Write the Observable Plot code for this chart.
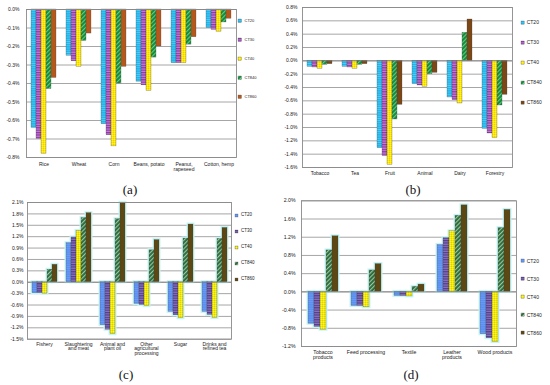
<!DOCTYPE html>
<html><head><meta charset="utf-8">
<script src="https://cdn.jsdelivr.net/npm/d3@7"></script>
<script src="https://cdn.jsdelivr.net/npm/@observablehq/plot@0.6"></script>
<style>
html,body{margin:0;padding:0;background:#fff;}
#root{position:relative;width:550px;height:385px;overflow:hidden;font-family:"Liberation Sans",Arial,sans-serif;}
.panel{position:absolute;}
.lg{position:absolute;color:#222;white-space:nowrap;line-height:1;font-family:"Liberation Sans",Arial,sans-serif;}
.tag{position:absolute;font-family:"Liberation Serif","Times New Roman",serif;font-size:13px;color:#111;transform:translate(-50%,-50%);line-height:1;}
</style></head>
<body>
<svg width="0" height="0" style="position:absolute">
<defs>
 <pattern id="a20" width="4" height="2.2" patternUnits="userSpaceOnUse"><rect width="4" height="2.2" fill="#1db4ea"/><rect y="1.4" width="4" height="0.6" fill="#6fd3f5"/></pattern>
 <pattern id="a30" width="4" height="2.4" patternUnits="userSpaceOnUse"><rect width="4" height="2.4" fill="#8a37a6"/><rect y="1.3" width="4" height="0.9" fill="#d896e2"/></pattern>
 <pattern id="a40" width="2" height="2" patternUnits="userSpaceOnUse"><rect width="2" height="2" fill="#ffe800"/><rect x="0" y="0" width="0.7" height="0.7" fill="#d9c200"/><rect x="1" y="1" width="0.7" height="0.7" fill="#fff59a"/></pattern>
 <pattern id="a840" width="3" height="3" patternUnits="userSpaceOnUse" patternTransform="rotate(45)"><rect width="3" height="3" fill="#17873c"/><rect width="1.1" height="3" fill="#66cc80"/></pattern>
 <pattern id="a860" width="4" height="4" patternUnits="userSpaceOnUse"><rect width="4" height="4" fill="#b4581c"/></pattern>
 <pattern id="b860" width="4" height="4" patternUnits="userSpaceOnUse"><rect width="4" height="4" fill="#7b4717"/></pattern>
 <pattern id="c20" width="4" height="2.2" patternUnits="userSpaceOnUse"><rect width="4" height="2.2" fill="#5a8ff0"/><rect y="1.4" width="4" height="0.5" fill="#7aa6f4"/></pattern>
 <pattern id="c30" width="4" height="2.4" patternUnits="userSpaceOnUse"><rect width="4" height="2.4" fill="#563c8c"/><rect y="1.3" width="4" height="0.9" fill="#9b86cc"/></pattern>
 <pattern id="c40" width="2" height="2" patternUnits="userSpaceOnUse"><rect width="2" height="2" fill="#f4ea00"/><rect x="0" y="0" width="0.7" height="0.7" fill="#c9bf00"/><rect x="1" y="1" width="0.7" height="0.7" fill="#fffaa0"/></pattern>
 <pattern id="c840" width="3" height="3" patternUnits="userSpaceOnUse" patternTransform="rotate(45)"><rect width="3" height="3" fill="#2c6b39"/><rect width="1.1" height="3" fill="#9cc6a4"/></pattern>
 <pattern id="c860" width="4" height="4" patternUnits="userSpaceOnUse"><rect width="4" height="4" fill="#5c4814"/></pattern>
</defs>
</svg>
<div id="root"></div>
<script>
const series = ["CT20", "CT30", "CT40", "CT840", "CT860"];

// Panel (a)
const catsA = ["Rice", "Wheat", "Corn", "Beans, potato", "Peanut,\nrapeseed", "Cotton, hemp"];
const valuesA = [
  [-0.64, -0.25, -0.62, -0.39, -0.29, -0.10],
  [-0.70, -0.28, -0.68, -0.41, -0.29, -0.11],
  [-0.78, -0.31, -0.74, -0.44, -0.29, -0.12],
  [-0.43, -0.17, -0.40, -0.26, -0.19, -0.07],
  [-0.37, -0.13, -0.31, -0.20, -0.15, -0.05]
];
const ticksA = [0, -0.1, -0.2, -0.3, -0.4, -0.5, -0.6, -0.7, -0.8];

// Panel (b)
const catsB = ["Tobacco", "Tea", "Fruit", "Animal", "Dairy", "Forestry"];
const valuesB = [
  [-0.09, -0.09, -1.31, -0.35, -0.55, -1.02],
  [-0.10, -0.10, -1.43, -0.37, -0.59, -1.09],
  [-0.12, -0.12, -1.56, -0.39, -0.64, -1.16],
  [-0.06, -0.06, -0.88, -0.20, 0.42, -0.67],
  [-0.05, -0.05, -0.66, -0.18, 0.62, -0.51]
];
const ticksB = [0.8, 0.6, 0.4, 0.2, 0, -0.2, -0.4, -0.6, -0.8, -1.0, -1.2, -1.4, -1.6];

// Panel (c)
const catsC = ["Fishery", "Slaughtering\nand meat", "Animal and\nplant oil", "Other\nagricultural\nprocessing", "Sugar", "Drinks and\nrefined tea"];
const valuesC = [
  [-0.29, 1.03, -1.13, -0.57, -0.78, -0.78],
  [-0.29, 1.18, -1.25, -0.60, -0.87, -0.86],
  [-0.30, 1.35, -1.37, -0.63, -0.95, -0.94],
  [0.33, 1.69, 1.66, 0.84, 1.15, 1.14],
  [0.46, 1.82, 2.09, 1.11, 1.52, 1.43]
];
const ticksC = [2.1, 1.8, 1.5, 1.2, 0.9, 0.6, 0.3, 0, -0.3, -0.6, -0.9, -1.2, -1.5];

// Panel (d)
const catsD = ["Tobacco\nproducts", "Feed processing", "Textile", "Leather\nproducts", "Wood products"];
const valuesD = [
  [-0.70, -0.31, -0.09, 1.03, -0.93],
  [-0.77, -0.31, -0.09, 1.18, -1.02],
  [-0.83, -0.34, -0.10, 1.33, -1.10],
  [0.91, 0.47, 0.11, 1.67, 1.40],
  [1.22, 0.61, 0.16, 1.90, 1.80]
];
const ticksD = [2.0, 1.6, 1.2, 0.8, 0.4, 0, -0.4, -0.8, -1.2];

const fillsA = ["url(#a20)", "url(#a30)", "url(#a40)", "url(#a840)", "url(#a860)"];
const fillsB = ["url(#a20)", "url(#a30)", "url(#a40)", "url(#a840)", "url(#b860)"];
const fillsCD = ["url(#c20)", "url(#c30)", "url(#c40)", "url(#c840)", "url(#c860)"];

const root = document.getElementById("root");
const fmt = d => d.toFixed(1) + "%";

function panel(cfg) {
  const data = cfg.cats.flatMap((c, i) => series.map((s, j) => ({cat: c, series: s, value: cfg.values[j][i]})));
  const marks = [
    Plot.gridY(cfg.ticks, {stroke: "#8f8f8f", strokeOpacity: 1, strokeWidth: 0.8}),
  ];
  if (cfg.glow) {
    marks.push(Plot.barY(data, {fx: "cat", x: "series", y: "value", fill: "none", stroke: "#c6f5f5", strokeWidth: 3}));
  }
  marks.push(
    Plot.barY(data, {fx: "cat", x: "series", y: "value", fill: "series", stroke: "#3a3a3a", strokeWidth: 0.35, strokeOpacity: 0.7}),
    Plot.ruleY([0], {stroke: "#7a7a7a", strokeWidth: 0.8}),
    Plot.axisY(cfg.ticks, {tickSize: 0, tickPadding: cfg.yPad, tickFormat: fmt, label: null, fontSize: cfg.fs}),
    Plot.axisFx({anchor: "bottom", tickSize: 0, tickPadding: cfg.xPad, label: null, fontSize: cfg.fs, lineHeight: cfg.lh}),
    Plot.frame({facet: "super", stroke: "#8a8a8a", strokeWidth: 0.9})
  );
  const p = Plot.plot({
    width: cfg.w, height: cfg.h,
    marginLeft: cfg.ml, marginRight: cfg.mr, marginTop: cfg.mt, marginBottom: cfg.mb,
    fx: {domain: cfg.cats, padding: 0, axis: null},
    x: {domain: series, paddingInner: 0, paddingOuter: 0.72, axis: null},
    y: {domain: cfg.domain, axis: null},
    color: {domain: series, range: cfg.fills},
    style: {fontSize: cfg.fs + "px", fontFamily: "Liberation Sans, Arial, sans-serif", color: "#1a1a1a", background: "transparent", overflow: "visible"},
    marks
  });
  p.classList.add("panel");
  p.style.left = cfg.left + "px";
  p.style.top = cfg.top + "px";
  root.appendChild(p);

  // legend
  series.forEach((s, j) => {
    const d = document.createElement("div");
    d.className = "lg";
    d.style.left = cfg.lgX + "px";
    d.style.top = (cfg.lgY[j] - cfg.lgFs / 2) + "px";
    d.style.fontSize = cfg.lgFs + "px";
    d.innerHTML = `<svg width="${cfg.sw + 2}" height="${cfg.sw}" style="vertical-align:middle;margin-right:1px;overflow:visible"><rect width="${cfg.sw}" height="${cfg.sw}" fill="${cfg.fills[j]}" stroke="#555" stroke-width="0.3"/></svg>${s}`;
    d.style.display = "flex";
    d.style.alignItems = "center";
    d.style.height = cfg.lgFs + "px";
    root.appendChild(d);
  });
  const t = document.createElement("div");
  t.className = "tag";
  t.style.left = cfg.tagX + "px";
  t.style.top = cfg.tagY + "px";
  t.textContent = cfg.tag;
  root.appendChild(t);
}

panel({cats: catsA, values: valuesA, ticks: ticksA, domain: [-0.8, 0], fills: fillsA,
  left: 0, top: 0, w: 238, h: 178, ml: 25, mr: 1, mt: 9, mb: 21, yPad: 7, xPad: 4, fs: 5, lh: 1.15,
  lgX: 238, lgY: [21, 40, 59, 78, 97], lgFs: 4, sw: 3.5, tag: "(a)", tagX: 130, tagY: 189});

panel({cats: catsB, values: valuesB, ticks: ticksB, domain: [-1.6, 0.8], fills: fillsB,
  left: 275, top: 0, w: 238, h: 180, ml: 27, mr: 1, mt: 7, mb: 13, yPad: 5, xPad: 4, fs: 5, lh: 1.1,
  lgX: 520.5, lgY: [22.7, 42.7, 62.7, 82.7, 102.7], lgFs: 5, sw: 3.2, tag: "(b)", tagX: 413, tagY: 189});

panel({cats: catsC, values: valuesC, ticks: ticksC, domain: [-1.5, 2.1], fills: fillsCD, glow: true,
  left: 0, top: 192, w: 234, h: 170, ml: 25, mr: 1, mt: 10, mb: 23.3, yPad: 4, xPad: 3, fs: 5, lh: 0.95,
  lgX: 235, lgY: [215.3, 231, 247, 263.7, 279.7], lgFs: 4.5, sw: 3, tag: "(c)", tagX: 126, tagY: 374});

panel({cats: catsD, values: valuesD, ticks: ticksD, domain: [-1.2, 2.0], fills: fillsCD, glow: true,
  left: 275, top: 192, w: 243, h: 175, ml: 25, mr: 1, mt: 8.3, mb: 21, yPad: 6, xPad: 3, fs: 5.2, lh: 1.1,
  lgX: 520.5, lgY: [261, 279, 297, 315, 333], lgFs: 5, sw: 3.2, tag: "(d)", tagX: 411, tagY: 374});
</script>
</body></html>
